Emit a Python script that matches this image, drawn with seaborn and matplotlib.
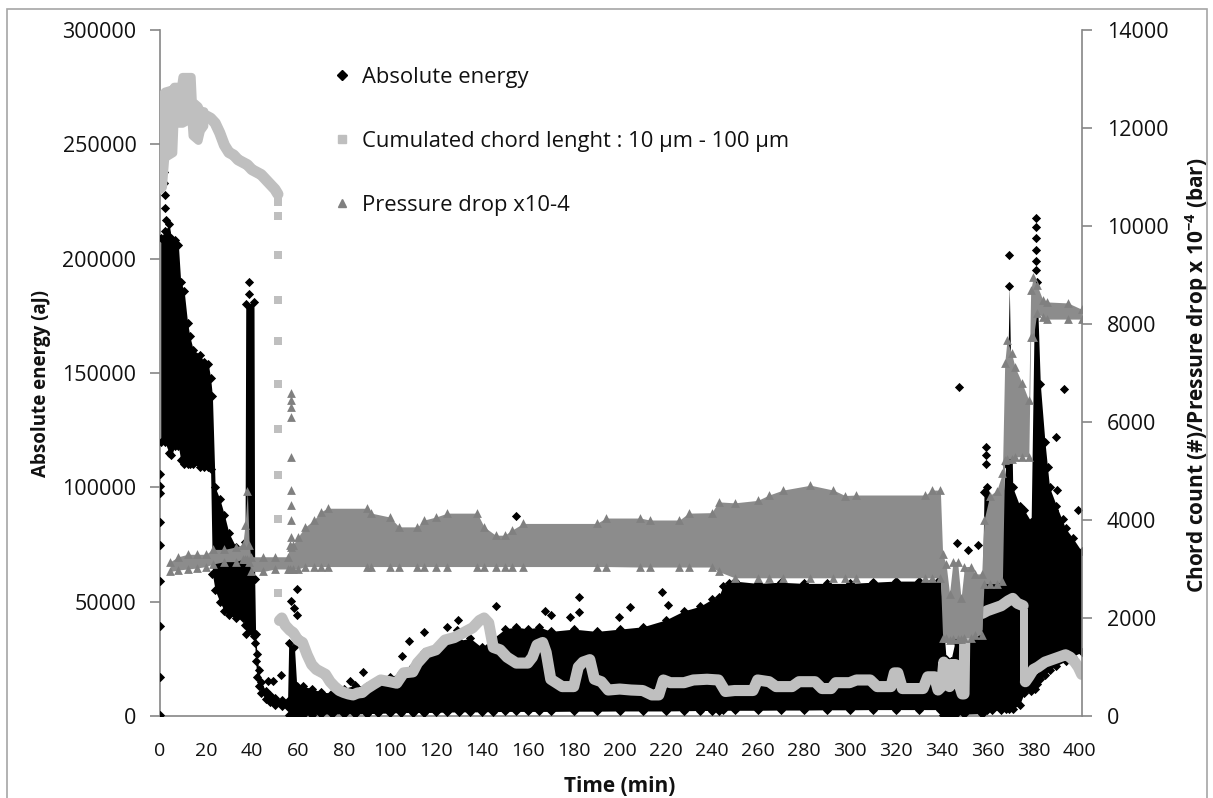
import matplotlib
matplotlib.use("Agg")
import matplotlib.pyplot as plt
import seaborn as sns
from matplotlib.lines import Line2D
from matplotlib.patches import Rectangle

# ---------------- data ----------------
# Absolute energy: dense band (lower / upper envelope), aJ
energy_t = [0.3, 2.0, 4.0, 5.0, 6.5, 8.0, 9.0, 10.5, 12.0, 13.0, 14.5, 17.5, 19.0, 21.0, 22.0,
            22.8, 24.0, 26.0, 28.0, 30.0, 33.0, 36.0, 37.0, 37.3, 40.9, 41.2,
            41.6, 42.2, 43.0, 44.0, 46.0, 48.0, 50.0, 53.0, 55.5,
            56.0, 58.5, 59.5, 62.0, 66.0, 70.0, 75.0, 80.0, 85.0, 90.0, 95.0,
            100, 105, 110, 115, 120, 125, 130, 135, 140, 145, 150, 155, 160, 165, 170,
            180, 190, 200, 210, 220, 228, 235, 240, 243, 245, 250, 260, 270, 280, 290,
            300, 310, 320, 330, 339.5,
            340.5, 342.0, 344.0, 346.0, 350.0, 357.5, 358.5, 360.0, 362.0, 366.0, 368.0,
            369.5, 371.0, 374.0, 376.0, 379.0, 380.5, 381.5, 383.0, 385.0, 387.0, 390.0,
            394.0, 397.0, 401.0]
energy_lo = [120000, 120000, 115000, 114000, 118000, 118000, 112000, 110000, 110000, 110000,
             110000, 109000, 109000, 109000, 108000,
             62000, 55000, 50000, 46000, 44000, 43000, 43000, 40000, 36000, 35000, 32000,
             24000, 17000, 13000, 10000, 7500, 6000, 5000, 4200, 4000,
             500, 500, 500, 500, 600, 800, 800, 900, 900, 1000, 1200,
             1300, 1500, 1500, 1500, 1600, 1700, 1800, 1800, 1800, 1900, 2000, 2000, 2000, 2000, 2000,
             2100, 2100, 2200, 2200, 2200, 2300, 2400, 2400, 2400, 2500, 2500, 2500, 2600, 2600, 2700,
             2700, 2800, 2800, 2800, 2800,
             300, 300, 400, 500, 800, 1000, 2000, 2500, 2500, 2500, 3000,
             3000, 3000, 5000, 10000, 11000, 12000, 14000, 16000, 18000, 20000, 22000,
             24000, 26000, 28000]
energy_hi = [209000, 212000, 215000, 209000, 208000, 206000, 190000, 186000, 172000, 166000,
             160000, 158000, 155000, 154000, 148000,
             140000, 100000, 95000, 88000, 80000, 74000, 73000, 76000, 180000, 181000, 60000,
             36000, 27000, 20000, 15000, 11000, 9000, 8000, 7000, 6500,
             32000, 30000, 13000, 13000, 12000, 10500, 10000, 12000, 13500, 13000, 14000,
             17000, 19000, 22000, 28000, 30000, 32000, 33000, 34000, 30000, 34000, 38000, 39000,
             38000, 39000, 37000,
             38000, 37000, 38000, 39000, 42000, 46000, 48000, 51000, 52000, 57000, 59000, 58000,
             58500, 58000, 58000,
             58000, 58500, 59000, 59000, 60000,
             45000, 25000, 24000, 33000, 33000, 36000, 98000, 100000, 95000, 88000, 110000,
             188000, 100000, 92000, 90000, 85000, 185000, 190000, 145000, 120000, 100000, 92000,
             82000, 78000, 72000]

# Absolute energy: isolated points
outlier_t = [0, 0, 0, 0, 0, 0, 0, 0, 0,
             1.5, 1.5, 1.6, 1.7, 1.8, 2.0, 2.2, 2.4,
             38.7, 38.7, 47.0, 49.3, 52.5,
             57.0, 58.3, 58.3, 59.4, 59.4, 82.6, 88.4,
             105.4, 108.4, 115.0, 125.0, 129.4, 129.7, 146.0, 155.1, 167.7, 170.3, 178.3,
             182.2, 182.3, 199.6, 204.3, 218.5, 221.2, 247.4, 276.5,
             346.8, 351.4, 351.4, 356.0, 347.5, 393.5, 389.9, 386.5, 390.3, 389.0, 399.6, 393.0,
             359.4, 359.4, 359.5, 369.4, 381.0, 381.0, 381.0, 381.0, 381.0, 381.0]
outlier_e = [500, 17000, 39500, 59000, 75000, 85000, 97500, 100500, 106000,
             254000, 248000, 243000, 238000, 233000, 228000, 222000, 217000,
             190000, 184500, 15500, 15400, 18000,
             50300, 72600, 47200, 55500, 44200, 15400, 19400,
             26200, 32800, 36600, 38800, 37600, 42000, 48200, 87500, 45900, 44000, 43200,
             52200, 45300, 43200, 47700, 54400, 48600, 58300, 76000,
             75800, 72600, 63600, 75000, 144000, 143000, 122000, 109000, 99000, 90000, 90000, 86000,
             117800, 114000, 110000, 201700, 218000, 214000, 209000, 204000, 199000, 195000]

# Cumulated chord length (secondary axis)
# early noisy part: band envelope
chord_band_t = [0.0, 1.0, 2.0, 5.5, 6.0, 9.0, 9.6, 13.5, 14.0, 16.5, 17.5, 19.0]
chord_band_lo = [10750, 10800, 11400, 11500, 12100, 12100, 12100, 12200, 11850, 11750, 11950, 12050]
chord_band_hi = [11300, 12700, 12750, 12800, 12850, 12850, 13050, 13050, 12550, 12450, 12350, 12350]
# continuous pieces
chord_t_a = [19.0, 20.0, 22.0, 24.0, 26.0, 28.0, 30.0, 32.0, 34.0, 36.0, 38.0,
             40.0, 42.0, 44.0, 46.0, 48.0, 50.0, 51.3]
chord_v_a = [12200, 12250, 12200, 12100, 11900, 11650, 11500, 11450, 11350, 11300, 11250,
             11150, 11100, 11050, 10950, 10850, 10750, 10650]
chord_t_b = [52.0, 53.0, 54.5, 55.5, 56.5, 58.0, 60.0, 62.0, 64.0, 66.0, 68.0, 70.0, 72.0,
             74.0, 76.0, 78.0, 80.0, 82.0, 84.0, 86.0, 88.0, 90.0, 93.0, 96.0, 100.0, 103.0,
             106.0, 110.0, 112.0, 116.0, 120.0, 124.0, 128.0, 132.0, 136.0, 139.0, 141.0,
             143.0, 145.0, 148.0, 151.0, 155.0, 160.0, 162.0, 164.0, 166.5, 168.0, 170.0,
             175.0, 180.0, 182.0, 184.0, 187.0, 189.0, 192.0, 195.0, 200.0, 205.0, 210.0,
             214.0, 217.0, 219.0, 222.0, 228.0, 232.0, 238.0, 243.0, 246.0, 250.0, 258.0,
             260.0, 265.0, 268.0, 275.0, 278.0, 285.0, 288.0, 292.0, 294.0, 300.0, 303.0,
             309.0, 312.0, 318.0, 319.5, 321.0, 323.0, 332.0, 334.0, 337.0, 338.5, 340.0,
             341.0, 342.0, 343.5, 344.0, 346.0, 347.0, 349.0, 349.8, 350.2, 352.0, 355.0,
             358.0, 360.0, 363.0, 366.0, 369.0, 371.0, 373.0, 375.5]
chord_v_b = [1950, 2000, 1850, 1800, 1750, 1700, 1550, 1500, 1250, 1050, 950, 900, 850,
             700, 600, 520, 480, 450, 430, 470, 480, 560, 650, 735, 700, 670,
             880, 900, 1080, 1290, 1350, 1550, 1600, 1700, 1800, 1950, 2000,
             1900, 1400, 1350, 1200, 1080, 1080, 1200, 1450, 1500, 1300, 750,
             600, 600, 1000, 1100, 1150, 750, 700, 530, 550, 530, 520,
             430, 430, 735, 680, 680, 735, 750, 735, 500, 520, 520,
             735, 700, 600, 600, 700, 700, 560, 560, 680, 680, 735,
             735, 600, 600, 880, 880, 560, 560, 800, 800, 530, 600,
             1100, 700, 600, 1050, 1050, 750, 450, 450, 1900, 2000, 2050,
             2100, 2150, 2200, 2250, 2350, 2400, 2300, 2250]
chord_t_c = [376.5, 378.0, 380.0, 382.0, 385.0, 388.0, 391.0, 394.0, 396.0, 398.0, 399.5, 401.0]
chord_v_c = [700, 800, 950, 1000, 1100, 1150, 1200, 1250, 1200, 1100, 1000, 850]
# Chord length: isolated squares on the two sudden drops
chord_drop_t = [51.5, 51.5, 51.5, 51.5, 51.5, 51.5, 51.5, 51.5, 51.5, 51.5,
                376.0, 376.0, 376.0, 376.0, 376.0, 376.0, 376.0, 376.0, 376.0, 376.0]
chord_drop_v = [10500, 10200, 9400, 8500, 7650, 6770, 5850, 4920, 4020, 2510,
                2100, 1950, 1800, 1650, 1500, 1350, 1200, 1050, 900, 750]

# Pressure drop x10-4 (secondary axis): band envelope
pressure_t = [4.5, 8.0, 12.0, 16.0, 20.0, 23.0, 28.0, 33.0, 36.0, 37.0, 38.0, 38.8, 39.5,
              45.0, 50.0, 55.5, 56.5, 58.0, 60.0, 63.0, 67.0, 70.0, 73.0, 90.0, 92.0, 100.0,
              104.0, 112.0, 115.0, 120.0, 125.0, 138.0, 141.0, 146.0, 150.0, 153.0, 158.0,
              190.0, 194.0, 209.0, 213.0, 226.0, 230.0, 240.0, 243.0, 250.0, 260.0, 265.0,
              271.0, 283.0, 293.0, 298.0, 303.0, 333.0, 336.0, 339.5,
              340.5, 342.0, 343.5, 345.0, 347.0, 348.5, 350.0, 353.0, 354.5, 357.5,
              358.5, 361.0, 364.0, 366.5, 367.5, 368.5, 370.5, 372.0, 375.0, 378.0,
              378.8, 380.0, 381.5, 384.0, 386.0, 395.0, 401.0]
pressure_lo = [2950, 2980, 3000, 3020, 3050, 3100, 3150, 3150, 3200, 3200, 3200, 3150, 2950,
               2950, 3000, 3000, 3000, 3000, 3000, 3050, 3050, 3050, 3050, 3050, 3050, 3050,
               3050, 3050, 3050, 3050, 3050, 3050, 3050, 3050, 3050, 3050, 3050,
               3050, 3050, 3040, 3040, 3040, 3040, 3040, 2950, 2820, 2820, 2820,
               2820, 2820, 2820, 2820, 2820, 2820, 2820, 2820,
               1600, 1600, 1550, 1580, 1580, 1580, 1600, 1600, 1650, 1650,
               2700, 2700, 2700, 2750, 5220, 5250, 5250, 5290, 5290, 5290,
               7740, 7740, 8230, 8150, 8100, 8100, 8100]
pressure_hi = [3150, 3250, 3300, 3300, 3300, 3400, 3400, 3450, 3500, 3900, 4600, 3500, 3250,
               3250, 3250, 3250, 3500, 3500, 3650, 3850, 4000, 4170, 4240, 4240, 4140, 4060,
               3860, 3860, 4000, 4060, 4140, 4140, 3860, 3690, 3690, 3790, 3930,
               3930, 4040, 4040, 4000, 4000, 4140, 4150, 4370, 4350, 4400, 4510,
               4610, 4710, 4610, 4500, 4510, 4510, 4610, 4610,
               3300, 3100, 2500, 3150, 3150, 2400, 3050, 3050, 2900, 2900,
               4000, 4500, 4600, 4950, 7200, 7670, 7400, 7120, 6800, 6440,
               8700, 8960, 8800, 8500, 8450, 8430, 8300]
# Pressure drop: isolated column of triangles
pressure_pt_t = [57.2, 57.2, 57.2, 57.2, 57.2, 57.0, 57.0, 57.0, 57.0, 57.0]
pressure_pt_v = [6600, 6450, 6300, 6100, 5290, 4610, 4310, 4000, 3650, 3450]

# axes / ticks / labels
x_ticks = list(range(0, 401, 20))
energy_ticks = [0, 50000, 100000, 150000, 200000, 250000, 300000]
chord_ticks = [0, 2000, 4000, 6000, 8000, 10000, 12000, 14000]
legend_labels = ["Absolute energy", "Cumulated chord lenght : 10 µm - 100 µm", "Pressure drop x10-4"]

# ---------------- style ----------------
sns.set_style("white")
plt.rcParams["font.family"] = ["Open Sans", "DejaVu Sans"]
plt.rcParams["mathtext.fontset"] = "custom"
plt.rcParams["mathtext.rm"] = "Open Sans"
plt.rcParams["mathtext.bf"] = "Open Sans:bold"

BLACK = "#000000"
LIGHT = "#BFBFBF"
MID = "#808080"
MID_FILL = "#8C8C8C"
AXC = "#868686"
TXT = "#111111"

W, H = 1213, 798
fig = plt.figure(figsize=(W / 100, H / 100), dpi=100)
ax = fig.add_axes([160 / W, 1 - 716 / H, 921.7 / W, 686 / H])
ax2 = ax.twinx()

# Absolute energy
ax.fill_between(energy_t, energy_lo, energy_hi, color=BLACK, lw=0, zorder=2)
sns.scatterplot(x=energy_t, y=energy_hi, marker="D", s=22, color=BLACK, linewidth=0, ax=ax, zorder=3)
sns.scatterplot(x=energy_t, y=energy_lo, marker="D", s=22, color=BLACK, linewidth=0, ax=ax, zorder=3)
sns.scatterplot(x=outlier_t, y=outlier_e, marker="D", s=22, color=BLACK, linewidth=0, ax=ax, zorder=3)

# Chord length
ax2.fill_between(chord_band_t, chord_band_lo, chord_band_hi, color=LIGHT, lw=6, edgecolor=LIGHT, zorder=2)
for tt, vv in ((chord_t_a, chord_v_a), (chord_t_b, chord_v_b), (chord_t_c, chord_v_c)):
    sns.lineplot(x=tt, y=vv, color=LIGHT, lw=8, estimator=None, sort=False, ax=ax2, zorder=2)
sns.scatterplot(x=chord_drop_t, y=chord_drop_v, marker="s", s=32, color=LIGHT, linewidth=0, ax=ax2, zorder=2)

# Pressure drop
ax2.fill_between(pressure_t, pressure_lo, pressure_hi, color=MID_FILL, lw=0, zorder=3)
sns.scatterplot(x=pressure_t, y=pressure_hi, marker="^", s=40, color=MID, linewidth=0, ax=ax2, zorder=3)
sns.scatterplot(x=pressure_t, y=pressure_lo, marker="^", s=40, color=MID, linewidth=0, ax=ax2, zorder=3)
sns.scatterplot(x=pressure_pt_t, y=pressure_pt_v, marker="^", s=40, color=MID, linewidth=0, ax=ax2, zorder=3)

# axes
ax.set_xlim(0, 401)
ax.set_ylim(0, 300000)
ax2.set_ylim(0, 14000)
ax.set_xticks(x_ticks)
ax.set_xticklabels([str(v) for v in x_ticks])
ax.set_yticks(energy_ticks)
ax.set_yticklabels([str(v) for v in energy_ticks])
ax2.set_yticks(chord_ticks)
ax2.set_yticklabels([str(v) for v in chord_ticks])

for a in (ax, ax2):
    for s in a.spines.values():
        s.set_color(AXC)
        s.set_linewidth(1.2)
    a.spines["top"].set_visible(False)
    a.grid(False)
ax.spines["right"].set_visible(False)
ax2.spines["left"].set_visible(False)
ax2.spines["bottom"].set_visible(False)

ax.tick_params(axis="y", direction="out", length=7, width=1.2, color=AXC,
               labelsize=15.5, labelcolor=TXT, pad=10)
ax.tick_params(axis="x", direction="out", length=7, width=1.2, color=AXC,
               labelsize=14, labelcolor=TXT, pad=12)
ax2.tick_params(axis="y", direction="out", length=7, width=1.2, color=AXC,
                labelsize=15.5, labelcolor=TXT, pad=11)

ax.set_xlabel("Time (min)", fontsize=15, fontweight="bold", color=TXT)
ax.set_ylabel("Absolute energy (aJ)", fontsize=13.5, fontweight="bold", color=TXT)
ax2.set_ylabel(r"Chord count (#)/Pressure drop x 10$^{\mathbf{-4}}$ (bar)", fontsize=15,
               fontweight="bold", color=TXT)
ax.xaxis.set_label_coords(0.499, -0.088)
ax.yaxis.set_label_coords(-0.118, 0.484)
ax2.yaxis.set_label_coords(1.110, 0.497)

# legend
handles = [
    Line2D([], [], ls="none", marker="D", markersize=5, color=BLACK),
    Line2D([], [], ls="none", marker="s", markersize=6, color=LIGHT),
    Line2D([], [], ls="none", marker="^", markersize=6, color=MID),
]
ax2.legend(handles, legend_labels, loc="upper left", bbox_to_anchor=(333 / W, 1 - 67 / H),
           bbox_transform=fig.transFigure, frameon=False, fontsize=15.8, handlelength=0.8,
           handletextpad=0.5, labelspacing=1.95, borderpad=0, borderaxespad=0,
           labelcolor=TXT)

# chart area border
fig.patches.append(Rectangle((7 / W, -0.05), 1200 / W, 1 - 9 / H + 0.05, transform=fig.transFigure,
                             fill=False, edgecolor="#A6A6A6", lw=1.2))

fig.savefig("out.png", dpi=100)
